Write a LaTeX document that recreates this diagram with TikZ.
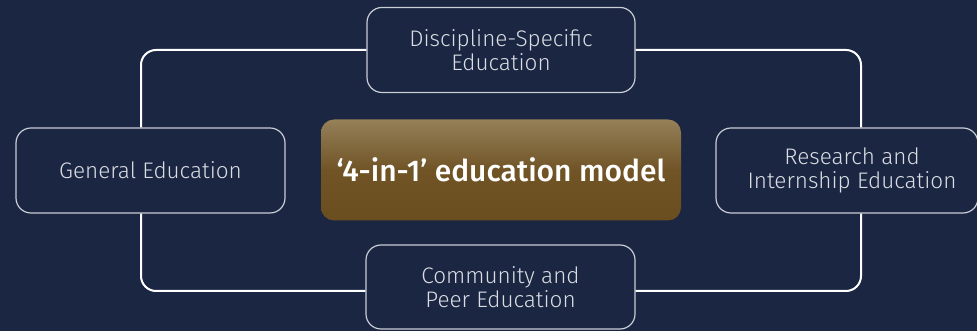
\documentclass[tikz,border=0pt]{standalone}
\usepackage{fontspec}
\setmainfont{Fira Sans}
\newfontfamily\lightfont{Fira Sans Light}
\newfontfamily\medfont{Fira Sans Medium}
\usetikzlibrary{calc}
\definecolor{bg}{HTML}{1B2642}
\definecolor{boxline}{HTML}{C9CDD6}
\definecolor{txt}{HTML}{DADDE3}
\definecolor{goldtop}{HTML}{958059}
\definecolor{goldmid}{HTML}{705426}
\definecolor{goldbot}{HTML}{6A4E20}
\tikzset{
  edubox/.style={draw=boxline, line width=1.2pt, rounded corners=15pt, fill=bg,
    text=txt, align=center, font=\lightfont\fontsize{22.5}{24}\selectfont, inner sep=0pt},
  corebox/.style={rounded corners=13pt, top color=goldtop, bottom color=goldbot,
    middle color=goldmid, shading angle=0, text=white, font=\medfont\fontsize{30}{32}\selectfont, inner sep=0pt},
  loopline/.style={draw=white, line width=2pt, rounded corners=15pt}
}
\begin{document}
\begin{tikzpicture}[x=1pt,y=1pt]
\fill[bg] (0,0) rectangle (977,331);
\useasboundingbox (0,0) rectangle (977,331);
\node[edubox, minimum width=268pt, minimum height=85pt] (top) at (501,281) {Discipline-Specific\\Education};
\node[edubox, minimum width=269pt, minimum height=85pt] (left) at (150.5,160.5) {General Education};
\node[edubox, minimum width=262pt, minimum height=85pt] (right) at (847,160.5) {\hspace*{10pt}Research and\\\hspace*{10pt}Internship Education};
\node[edubox, minimum width=269pt, minimum height=84pt] (bottom) at (500.5,44) {Community and\\Peer Education};
\node[corebox, minimum width=360pt, minimum height=101pt] (core) at (501,161) {‘4-in-1’ education model};
\draw[loopline] (top.west) -| ($(left.north)+(-9.5,0)$);
\draw[loopline] (top.east) -| ($(right.north)+(14,0)$);
\draw[loopline] ($(bottom.west)+(0,-4)$) -| ($(left.south)+(-9.5,0)$);
\draw[loopline] ($(bottom.east)+(0,-4)$) -| ($(right.south)+(14,0)$);
\end{tikzpicture}
\end{document}
